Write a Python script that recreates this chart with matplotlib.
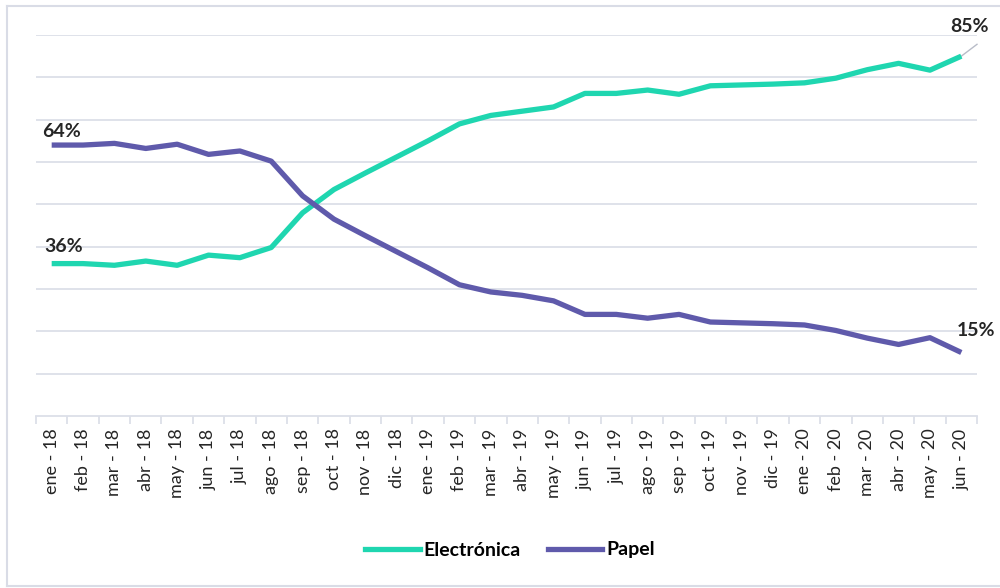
import matplotlib
matplotlib.use("Agg")
import matplotlib.pyplot as plt
from matplotlib.lines import Line2D

months = ["ene", "feb", "mar", "abr", "may", "jun", "jul", "ago", "sep", "oct", "nov", "dic"]
categories = [f"{m} - {y}" for y in ["18", "19"] for m in months] + \
             [f"{m} - 20" for m in months[:6]]

electronica = [36, 36, 35.6, 36.6, 35.6, 38, 37.4, 39.8, 48, 53.5, 57.4, 61.2, 65, 69, 71,
               72, 73, 76.2, 76.2, 77, 76, 78, 78.2, 78.4, 78.7, 79.8, 81.8, 83.3, 81.7, 85]
papel = [64, 64, 64.4, 63.2, 64.2, 61.8, 62.6, 60.2, 52, 46.5, 42.6, 38.8, 35, 31, 29.3,
         28.5, 27.2, 24, 24, 23.1, 24, 22.2, 22, 21.8, 21.5, 20.2, 18.4, 16.9, 18.5, 15]

c_elec = "#1FD6B0"
c_pap = "#5F5AAB"
grid_c = "#DCDFE8"
txt_c = "#262626"
font = ["Lato", "DejaVu Sans"]

fig = plt.figure(figsize=(10, 5.88), dpi=100)
ax = fig.add_axes([0.036, 1 - 416 / 588, 0.941, (416 - 35) / 588])

x = list(range(len(categories)))
ax.plot(x, electronica, color=c_elec, lw=3.8, solid_capstyle="butt", zorder=3)
ax.plot(x, papel, color=c_pap, lw=3.8, solid_capstyle="butt", zorder=3)

ax.set_xlim(-0.5, len(categories) - 0.5)
ax.set_ylim(0, 90)
ax.set_yticks(range(10, 91, 10))
ax.yaxis.grid(True, color=grid_c, lw=1.3)
ax.set_axisbelow(True)
ax.tick_params(axis="y", left=False, labelleft=False)
for s in ["top", "right", "left"]:
    ax.spines[s].set_visible(False)
ax.spines["bottom"].set_color(grid_c)
ax.spines["bottom"].set_linewidth(1.3)

ax.set_xticks(x)
ax.set_xticklabels(categories, rotation=90, fontsize=13, color=txt_c, family=font)
ax.tick_params(axis="x", length=0, pad=9)
ax.set_xticks([i - 0.5 for i in range(len(categories) + 1)], minor=True)
ax.tick_params(axis="x", which="minor", length=6, color=grid_c, width=1.3)

# data labels
lab = dict(fontsize=14, fontweight="bold", color=txt_c, family=font)
ax.annotate(f"{papel[0]:.0f}%", (0, papel[0]), xytext=(-7, 4), textcoords="offset points",
            ha="left", va="bottom", **lab)
ax.annotate(f"{electronica[0]:.0f}%", (0, electronica[0]), xytext=(-5, 6), textcoords="offset points",
            ha="left", va="bottom", **lab)
ax.annotate(f"{electronica[-1]:.0f}%", (x[-1], electronica[-1]), xytext=(-8, 15),
            textcoords="offset points", ha="left", va="bottom", **lab)
ax.plot([x[-1], x[-1] + 0.5], [electronica[-1], electronica[-1] + 2.8], color="#B8BCC8", lw=1, zorder=2,
        clip_on=False)
ax.annotate(f"{papel[-1]:.0f}%", (x[-1], papel[-1]), xytext=(-3, 10),
            textcoords="offset points", ha="left", va="bottom", **lab)

# legend
handles = [Line2D([], [], color=c_elec, lw=3.8), Line2D([], [], color=c_pap, lw=3.8)]
fig.legend(handles, ["Electrónica", "Papel"], loc="center", bbox_to_anchor=(0.51, 1 - 550 / 588),
           ncol=2, frameon=False, handlelength=2.8, handletextpad=0.2, columnspacing=1.4,
           prop=dict(family=font, weight="bold", size=14))

# outer frame
fr = dict(color="#D9DCE6", lw=1.5, transform=fig.transFigure)
fig.add_artist(Line2D([7 / 1000, 7 / 1000], [1 - 6 / 588, 1 - 586 / 588], **fr))
fig.add_artist(Line2D([7 / 1000, 1], [1 - 6 / 588, 1 - 6 / 588], **fr))
fig.add_artist(Line2D([7 / 1000, 1], [1 - 586 / 588, 1 - 586 / 588], **fr))

fig.savefig("out.png", dpi=100)
